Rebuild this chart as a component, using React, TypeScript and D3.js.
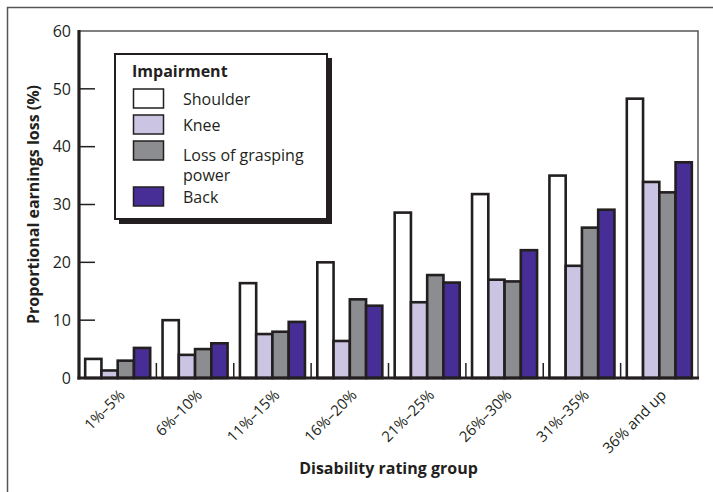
import React from "react";
import * as d3 from "d3";

const categories = ["1%–5%", "6%–10%", "11%–15%", "16%–20%", "21%–25%", "26%–30%", "31%–35%", "36% and up"];
const seriesNames = ["Shoulder", "Knee", "Loss of grasping power", "Back"];
const shoulder = [3.3, 10.0, 16.4, 20.0, 28.6, 31.8, 35.0, 48.3];
const knee = [1.3, 4.0, 7.6, 6.4, 13.1, 17.0, 19.4, 33.9];
const grasping = [3.0, 5.0, 8.0, 13.6, 17.8, 16.7, 26.0, 32.1];
const back = [5.2, 6.0, 9.7, 12.5, 16.5, 22.1, 29.1, 37.3];
const seriesValues = [shoulder, knee, grasping, back];
const colors = ["#ffffff", "#cbc4e2", "#8b8d90", "#472d96"];
const yTicks = [0, 10, 20, 30, 40, 50, 60];

const W = 713, H = 492;
const M = { left: 79, right: 698, top: 31, bottom: 378 };
const FONT = "'Open Sans', 'Noto Sans', sans-serif";

export default function App() {
  const x = d3.scaleBand<string>().domain(categories).range([M.left, M.right]).paddingInner(0).paddingOuter(0);
  const inner = d3.scaleBand<number>().domain([0, 1, 2, 3]).range([0, x.step()]).paddingInner(0).paddingOuter(0.38);
  const y = d3.scaleLinear().domain([0, 60]).range([M.bottom, M.top]);
  const bw = inner.bandwidth();

  return (
    <svg width={W} height={H} style={{ display: "block", position: "absolute", left: 0, top: 0 }} fontFamily={FONT}>
      <rect x={0} y={0} width={W} height={H} fill="#fff" />
      {/* outer frame */}
      <path d={`M7.5,${H + 5} V7.5 H${W + 5}`} fill="none" stroke="#555" strokeWidth={1.5} />
      {/* plot top and right borders */}
      <path d={`M${M.left},${M.top} H${M.right} V${M.bottom}`} fill="none" stroke="#555" strokeWidth={1.5} />

      {/* bars */}
      {categories.map((c, ci) => (
        <g key={c}>
          {seriesValues.map((vals, si) => (
            <rect
              key={si}
              x={(x(c) as number) + (inner(si) as number)}
              y={y(vals[ci])}
              width={bw}
              height={y(0) - y(vals[ci])}
              fill={colors[si]}
              stroke="#231f20"
              strokeWidth={2.6}
            />
          ))}
        </g>
      ))}

      {/* category separator ticks */}
      {categories.slice(1).map((c) => (
        <line key={c} x1={x(c) as number} x2={x(c) as number} y1={M.bottom} y2={M.bottom - 15} stroke="#231f20" strokeWidth={1.5} />
      ))}

      {/* y ticks */}
      {yTicks.map((t) => (
        <g key={t}>
          {t > 0 && t < 60 && (
            <line x1={M.left} x2={M.left + 16} y1={y(t)} y2={y(t)} stroke="#231f20" strokeWidth={1.5} />
          )}
          <text x={71} y={y(t)} dy="0.36em" textAnchor="end" fontSize={16} fill="#231f20">
            {t}
          </text>
        </g>
      ))}

      {/* axes */}
      <line x1={M.left} x2={M.left} y1={M.top - 1} y2={M.bottom + 1.5} stroke="#231f20" strokeWidth={3.2} />
      <line x1={M.left - 1.5} x2={M.right + 1} y1={M.bottom} y2={M.bottom} stroke="#231f20" strokeWidth={3.2} />

      {/* x labels */}
      {categories.map((c) => {
        const cx = (x(c) as number) + x.step() / 2 + 8;
        const cy = 396;
        return (
          <text key={c} x={cx} y={cy} textAnchor="end" fontSize={15} fill="#231f20" transform={`rotate(-45 ${cx} ${cy})`}>
            {c}
          </text>
        );
      })}

      {/* axis titles */}
      <text x={(M.left + M.right) / 2} y={474} textAnchor="middle" fontSize={16} fontWeight="bold" fill="#231f20">
        Disability rating group
      </text>
      <text
        x={0}
        y={0}
        transform={`translate(39 ${(M.top + M.bottom) / 2}) rotate(-90)`}
        textAnchor="middle"
        fontSize={16}
        fontWeight="bold"
        fill="#231f20"
      >
        Proportional earnings loss (%)
      </text>

      {/* legend */}
      <g>
        <rect x={119} y={58} width={213} height={166} fill="#231f20" />
        <rect x={115} y={54} width={212} height={165} fill="#fff" stroke="#231f20" strokeWidth={2} />
        <text x={132} y={77} fontSize={16} fontWeight="bold" fill="#231f20">Impairment</text>
        {[
          { y: 89, lines: ["Shoulder"] },
          { y: 115, lines: ["Knee"] },
          { y: 141, lines: ["Loss of grasping", "power"] },
          { y: 187, lines: ["Back"] },
        ].map((it, i) => (
          <g key={i}>
            <rect x={133.5} y={it.y} width={30} height={19} fill={colors[i]} stroke="#231f20" strokeWidth={1.5} />
            {it.lines.map((ln, li) => (
              <text key={li} x={183} y={it.y + 16 + li * 20 + (i === 2 ? 4 : 0)} fontSize={16} fill="#231f20">
                {ln}
              </text>
            ))}
          </g>
        ))}
      </g>
    </svg>
  );
}
